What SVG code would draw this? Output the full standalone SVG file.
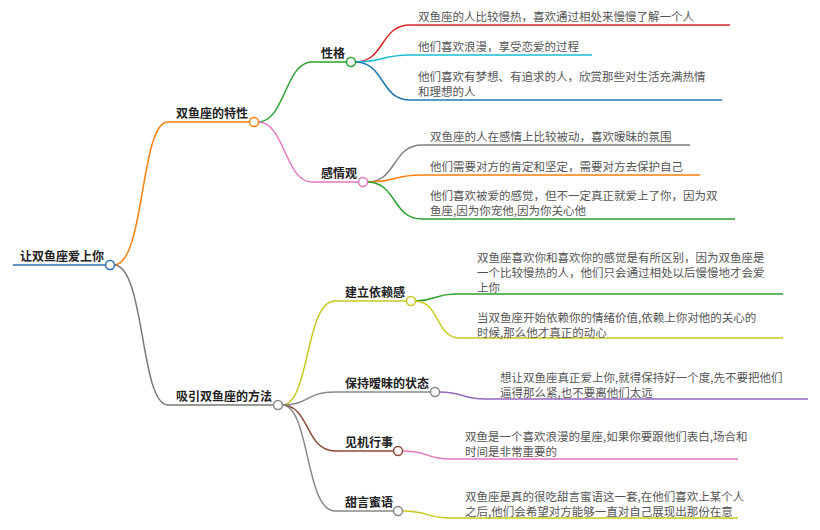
<svg xmlns="http://www.w3.org/2000/svg" width="820" height="530" viewBox="0 0 820 530">
<style>
.l{font-family:"Noto Sans CJK SC",sans-serif;font-size:11.5px;fill:#555}
.b{font-family:"Noto Sans CJK SC",sans-serif;font-size:12px;font-weight:bold;fill:#222}
path{fill:none;stroke-width:1.5}
circle{fill:#fff;stroke-width:1.5}
</style>
<rect width="820" height="530" fill="#fff"/>
<g id="connectors">
<path d="M13 265H105" stroke="#2d6fb0" stroke-width="3"/>
<path d="M114 265C145 265 140 122 168 122H250" stroke="#ff7f0e"/>
<path d="M114 265C145 265 140 405 168 405H274" stroke="#777"/>
<path d="M258 122C285 122 285 62 312 62H347" stroke="#2ca02c"/>
<path d="M258 122C285 122 285 182 312 182H359" stroke="#e377c2"/>
<path d="M355 62C385 62 380 25 410 25H730" stroke="#d62728"/>
<path d="M355 62C385 62 380 55 410 55H592" stroke="#17becf"/>
<path d="M355 62C385 62 380 100 410 100H722" stroke="#1f77b4"/>
<path d="M367 182C397 182 392 145 422 145H690" stroke="#7f7f7f"/>
<path d="M367 182C397 182 392 175 422 175H700" stroke="#ff7f0e"/>
<path d="M367 182C397 182 392 219 422 219H735" stroke="#2ca02c"/>
<path d="M282 405C310 405 305 301 335 301H407" stroke="#c8c820"/>
<path d="M282 405C310 405 305 392 335 392H431" stroke="#888"/>
<path d="M282 405C310 405 305 451 335 451H394" stroke="#8c4a3c"/>
<path d="M282 405C310 405 305 511 335 511H394" stroke="#888"/>
<path d="M415 301C435 301 435 294 455 294H783" stroke="#2ca02c"/>
<path d="M415 301C440 301 435 338 460 338H783" stroke="#c8c820"/>
<path d="M439 392C465 392 460 399 485 399H808" stroke="#9467bd"/>
<path d="M402 451C430 451 425 459 450 459H738" stroke="#e377c2"/>
<path d="M402 511C430 511 425 518 450 518H738" stroke="#c8c820"/>
</g>
<g id="root"><text class="b" x="20" y="261">让双鱼座爱上你</text><circle cx="110" cy="265" r="4.5" stroke="#2d6fb0"/></g>
<g id="n1"><text class="b" x="176" y="118">双鱼座的特性</text><circle cx="254" cy="122" r="4.5" stroke="#ff7f0e"/></g>
<g id="n2"><text class="b" x="176" y="401">吸引双鱼座的方法</text><circle cx="278" cy="405" r="4.5" stroke="#888"/></g>
<g id="n11"><text class="b" x="321" y="58">性格</text><circle cx="351" cy="62" r="4.5" stroke="#2ca02c"/></g>
<g id="n12"><text class="b" x="321" y="178">感情观</text><circle cx="363" cy="182" r="4.5" stroke="#e377c2"/></g>
<g id="l1"><text class="l" x="418" y="21">双鱼座的人比较慢热，喜欢通过相处来慢慢了解一个人</text></g>
<g id="l2"><text class="l" x="418" y="51">他们喜欢浪漫，享受恋爱的过程</text></g>
<g id="l3"><text class="l" x="418" y="81">他们喜欢有梦想、有追求的人，欣赏那些对生活充满热情</text><text class="l" x="418" y="96">和理想的人</text></g>
<g id="l4"><text class="l" x="430" y="141">双鱼座的人在感情上比较被动，喜欢暧昧的氛围</text></g>
<g id="l5"><text class="l" x="430" y="171">他们需要对方的肯定和坚定，需要对方去保护自己</text></g>
<g id="l6"><text class="l" x="430" y="200">他们喜欢被爱的感觉，但不一定真正就爱上了你，因为双</text><text class="l" x="430" y="215">鱼座,因为你宠他,因为你关心他</text></g>
<g id="n21"><text class="b" x="345" y="297">建立依赖感</text><circle cx="411" cy="301" r="4.5" stroke="#c8c820"/></g>
<g id="n22"><text class="b" x="345" y="388">保持暧昧的状态</text><circle cx="435" cy="392" r="4.5" stroke="#888"/></g>
<g id="n23"><text class="b" x="345" y="447">见机行事</text><circle cx="398" cy="451" r="4.5" stroke="#8c4a3c"/></g>
<g id="n24"><text class="b" x="345" y="507">甜言蜜语</text><circle cx="398" cy="511" r="4.5" stroke="#888"/></g>
<g id="l7"><text class="l" x="477" y="262">双鱼座喜欢你和喜欢你的感觉是有所区别，因为双鱼座是</text><text class="l" x="477" y="277">一个比较慢热的人，他们只会通过相处以后慢慢地才会爱</text><text class="l" x="477" y="292">上你</text></g>
<g id="l8"><text class="l" x="477" y="322">当双鱼座开始依赖你的情绪价值,依赖上你对他的关心的</text><text class="l" x="477" y="337">时候,那么他才真正的动心</text></g>
<g id="l9"><text class="l" x="500" y="382">想让双鱼座真正爱上你,就得保持好一个度,先不要把他们</text><text class="l" x="500" y="397">逼得那么紧,也不要离他们太远</text></g>
<g id="l10"><text class="l" x="465" y="441">双鱼是一个喜欢浪漫的星座,如果你要跟他们表白,场合和</text><text class="l" x="465" y="456">时间是非常重要的</text></g>
<g id="l11"><text class="l" x="465" y="501">双鱼座是真的很吃甜言蜜语这一套,在他们喜欢上某个人</text><text class="l" x="465" y="516">之后,他们会希望对方能够一直对自己展现出那份在意</text></g>
</svg>
